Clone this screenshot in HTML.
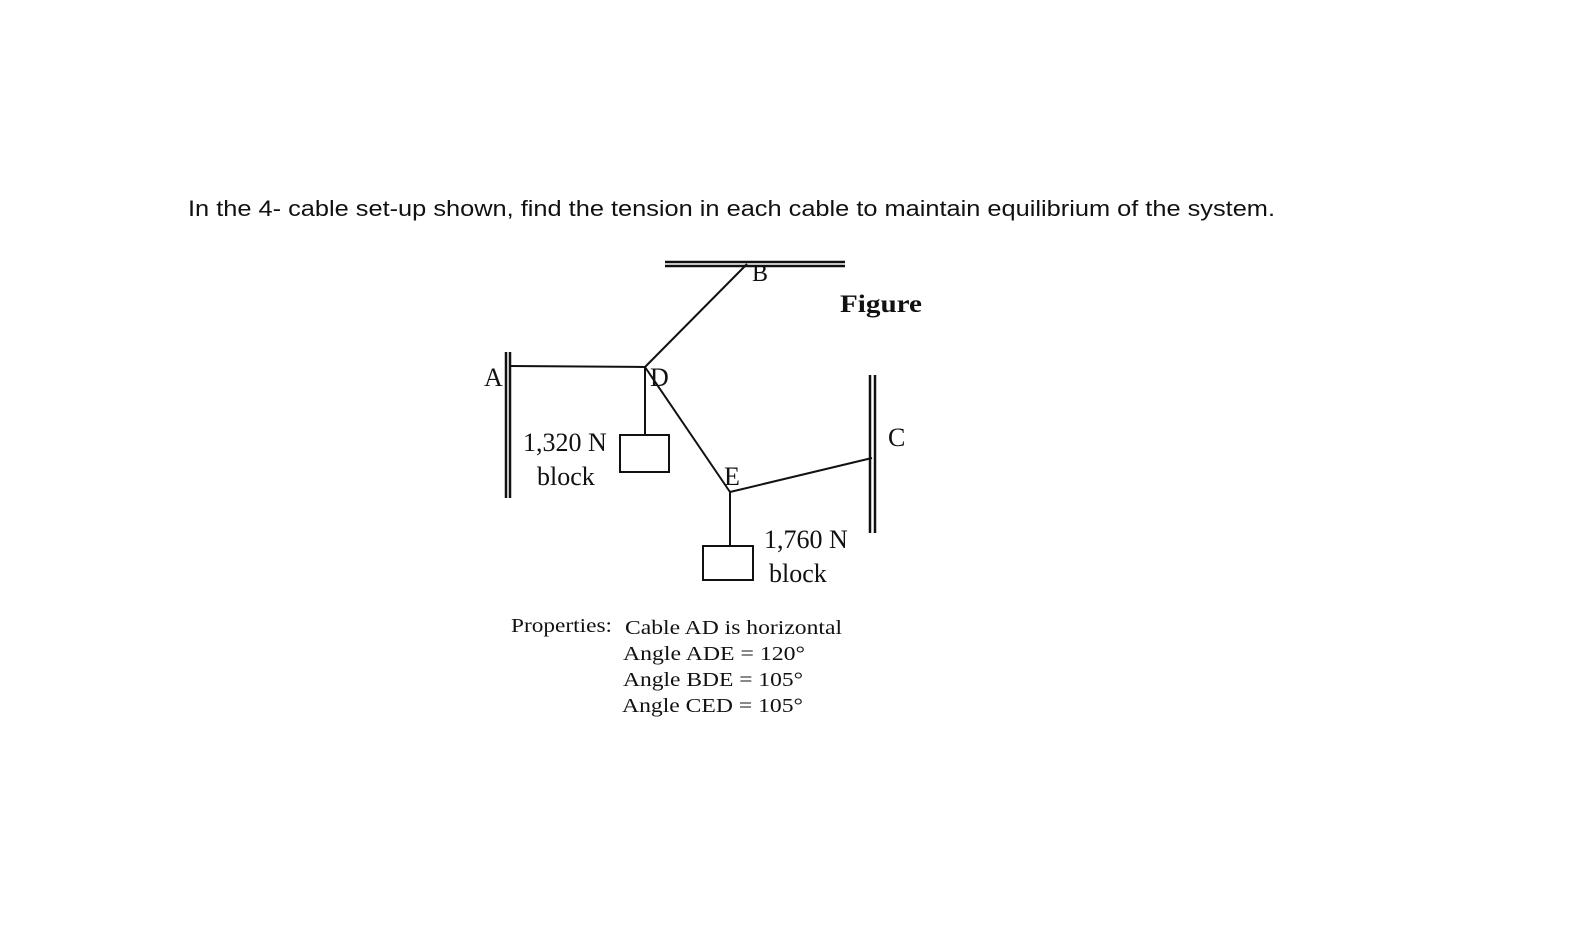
<!DOCTYPE html>
<html><head><style>body{margin:0;background:#fff}</style></head><body>
<svg width="1571" height="945" xmlns="http://www.w3.org/2000/svg" style="display:block">
<rect width="1571" height="945" fill="#fff"/>
<text x="188" y="216" font-family="Liberation Sans, sans-serif" font-size="22" fill="#111" textLength="1087" lengthAdjust="spacingAndGlyphs">In the 4- cable set-up shown, find the tension in each cable to maintain equilibrium of the system.</text>
<g stroke="#111" stroke-width="2" fill="none">
<line x1="665" y1="262" x2="845" y2="262" stroke-width="2.5"/><line x1="665" y1="266" x2="845" y2="266" stroke-width="2.5"/>
<line x1="506" y1="352" x2="506" y2="498" stroke-width="2.5"/><line x1="510" y1="352" x2="510" y2="498" stroke-width="2.5"/>
<line x1="870" y1="375" x2="870" y2="533" stroke-width="2.5"/><line x1="875" y1="375" x2="875" y2="533" stroke-width="2.5"/>
<line x1="747" y1="264" x2="645" y2="367"/>
<line x1="510" y1="366" x2="645" y2="367"/>
<line x1="645" y1="367" x2="645" y2="435"/>
<line x1="645" y1="367" x2="730" y2="492"/>
<line x1="730" y1="492" x2="872" y2="458"/>
<line x1="730" y1="492" x2="730" y2="546"/>
<rect x="620" y="435" width="49" height="37"/>
<rect x="703" y="546" width="50" height="34"/>
</g>
<g font-family="Liberation Serif, serif" fill="#111">
<text x="484" y="386" font-size="26">A</text>
<text x="650" y="386" font-size="26">D</text>
<text x="752" y="281" font-size="24">B</text>
<text x="888" y="446" font-size="26">C</text>
<text x="724" y="485" font-size="26">E</text>
<text x="840" y="312" font-size="25" font-weight="bold" textLength="82" lengthAdjust="spacingAndGlyphs">Figure</text>
<text x="523" y="451" font-size="26">1,320 N</text>
<text x="537" y="485" font-size="26">block</text>
<text x="764" y="548" font-size="26">1,760 N</text>
<text x="769" y="582" font-size="26">block</text>
<text x="511" y="632" font-size="20" textLength="101" lengthAdjust="spacingAndGlyphs">Properties:</text>
<text x="625" y="634" font-size="20" textLength="217" lengthAdjust="spacingAndGlyphs">Cable AD is horizontal</text>
<text x="623" y="660" font-size="20" textLength="182" lengthAdjust="spacingAndGlyphs">Angle ADE = 120°</text>
<text x="623" y="686" font-size="20" textLength="180" lengthAdjust="spacingAndGlyphs">Angle BDE = 105°</text>
<text x="622" y="712" font-size="20" textLength="181" lengthAdjust="spacingAndGlyphs">Angle CED = 105°</text>
</g>
</svg>
</body></html>
